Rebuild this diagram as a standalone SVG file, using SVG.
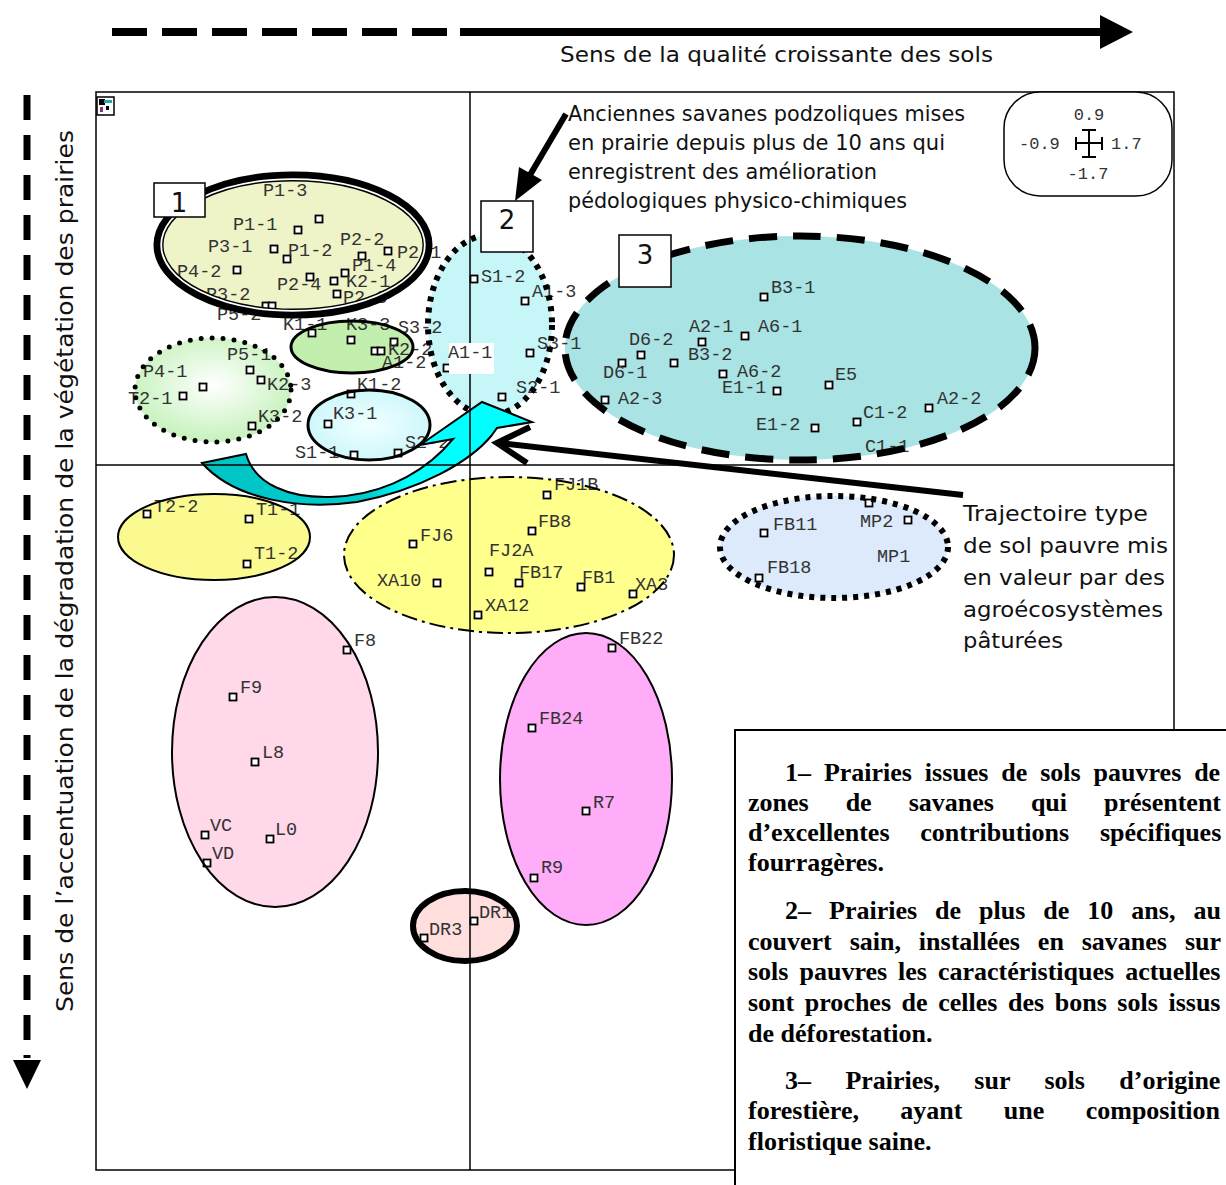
<svg xmlns="http://www.w3.org/2000/svg" width="1226" height="1185" viewBox="0 0 1226 1185">
<defs>
<style>
.lb{font-family:"Liberation Mono","DejaVu Sans Mono",monospace;font-size:18.5px;fill:#333}
.pt{fill:#fff;stroke:#000;stroke-width:1.8}
.sans{font-family:"DejaVu Sans","Liberation Sans",sans-serif;fill:#111}
.bt{font-family:"Liberation Serif","Times New Roman",serif;font-weight:bold;font-size:26px;fill:#000}
.num{font-family:"Liberation Mono",monospace;font-size:17px;fill:#333}
.bx{fill:#fff;stroke:#000;stroke-width:1.5}
.bxt{font-family:"DejaVu Sans","Liberation Sans",sans-serif;font-size:26px;fill:#111;text-anchor:middle}
</style>
<radialGradient id="gGreen" cx="0.5" cy="0.45" r="0.55">
<stop offset="0" stop-color="#ffffff"/><stop offset="1" stop-color="#c6f2bc"/>
</radialGradient>
<radialGradient id="gCyan" cx="0.5" cy="0.5" r="0.6">
<stop offset="0" stop-color="#f0ffff"/><stop offset="1" stop-color="#c8f6fa"/>
</radialGradient>
<linearGradient id="gArrow" x1="200" y1="0" x2="535" y2="0" gradientUnits="userSpaceOnUse">
<stop offset="0" stop-color="#00c4c4"/><stop offset="0.5" stop-color="#00cccc"/><stop offset="0.62" stop-color="#00ffff"/><stop offset="1" stop-color="#00ffff"/>
</linearGradient>
</defs>
<rect width="1226" height="1185" fill="#fff"/>

<!-- axis direction arrows -->
<g id="topArrow">
<line x1="112" y1="32" x2="447" y2="32" stroke="#000" stroke-width="8" stroke-dasharray="35 15"/>
<line x1="460" y1="32" x2="1105" y2="32" stroke="#000" stroke-width="8"/>
<polygon points="1100,15 1133,32 1100,49" fill="#000"/>
<text class="sans" x="560" y="62" font-size="22" textLength="433" lengthAdjust="spacingAndGlyphs">Sens de la qualité croissante des sols</text>
</g>
<g id="leftArrow">
<line x1="27" y1="95" x2="27" y2="1058" stroke="#000" stroke-width="7" stroke-dasharray="25 15"/>
<polygon points="13,1060 41,1060 27,1089" fill="#000"/>
<text class="sans" transform="translate(73,1012) rotate(-90)" font-size="23" textLength="882" lengthAdjust="spacingAndGlyphs">Sens de l’accentuation de la dégradation de la végétation des prairies</text>
</g>

<!-- frame -->
<rect x="96" y="92" width="1078" height="1078" fill="none" stroke="#000" stroke-width="1.5"/>
<g id="icon">
<rect x="97" y="97" width="17" height="18" fill="#fff" stroke="#000" stroke-width="1.5"/>
<rect x="99" y="99" width="6" height="6" fill="#000"/>
<rect x="104" y="100" width="8" height="3" fill="#2aa"/>
<rect x="100" y="107" width="3" height="5" fill="#838"/>
<rect x="106" y="106" width="3" height="4" fill="#000"/>
</g>

<!-- ellipse fills -->
<g id="fills">
<ellipse cx="293" cy="245" rx="131" ry="65" fill="#eef3c8"/>
<ellipse cx="352" cy="347" rx="61" ry="26" fill="#c2efae"/>
<ellipse cx="213" cy="390" rx="78" ry="52" fill="url(#gGreen)"/>
<ellipse cx="369" cy="425" rx="61" ry="35" fill="url(#gCyan)"/>
<ellipse cx="490" cy="325" rx="62" ry="90" fill="#c6f6f8"/>
<ellipse cx="800" cy="348" rx="235" ry="112" fill="#a9e3e3"/>
<ellipse cx="214" cy="537" rx="96" ry="43" fill="#fafa90"/>
<ellipse cx="509" cy="555" rx="165" ry="78" fill="#ffff8c"/>
<ellipse cx="275" cy="752" rx="103" ry="155" fill="#ffd8ea"/>
<ellipse cx="586" cy="779" rx="86" ry="146" fill="#ffadf8"/>
<ellipse cx="465" cy="926" rx="52" ry="35" fill="#ffdede"/>
<ellipse cx="834" cy="547" rx="114" ry="51" fill="#dceafc"/>
</g>

<!-- points -->
<g id="points">
<rect class="pt" x="315.5" y="215.5" width="7" height="7"/>
<rect class="pt" x="294.5" y="226.5" width="7" height="7"/>
<rect class="pt" x="270.5" y="245.5" width="7" height="7"/>
<rect class="pt" x="283.5" y="255.5" width="7" height="7"/>
<rect class="pt" x="358.5" y="252.5" width="7" height="7"/>
<rect class="pt" x="384.5" y="247.5" width="7" height="7"/>
<rect class="pt" x="233.5" y="266.5" width="7" height="7"/>
<rect class="pt" x="341.5" y="269.5" width="7" height="7"/>
<rect class="pt" x="306.5" y="273.5" width="7" height="7"/>
<rect class="pt" x="330.5" y="277.5" width="7" height="7"/>
<rect class="pt" x="333.5" y="290.5" width="7" height="7"/>
<rect class="pt" x="262.5" y="302.5" width="7" height="7"/>
<rect class="pt" x="268.5" y="302.5" width="7" height="7"/>
<rect class="pt" x="308.5" y="329.5" width="7" height="7"/>
<rect class="pt" x="347.5" y="336.5" width="7" height="7"/>
<rect class="pt" x="390.5" y="338.5" width="7" height="7"/>
<rect class="pt" x="371.5" y="347.5" width="7" height="7"/>
<rect class="pt" x="377.5" y="347.5" width="7" height="7"/>
<rect class="pt" x="443.5" y="364.5" width="7" height="7"/>
<rect class="pt" x="246.5" y="366.5" width="7" height="7"/>
<rect class="pt" x="199.5" y="383.5" width="7" height="7"/>
<rect class="pt" x="257.5" y="376.5" width="7" height="7"/>
<rect class="pt" x="179.5" y="392.5" width="7" height="7"/>
<rect class="pt" x="347.5" y="390.5" width="7" height="7"/>
<rect class="pt" x="324.5" y="420.5" width="7" height="7"/>
<rect class="pt" x="248.5" y="422.5" width="7" height="7"/>
<rect class="pt" x="350.5" y="451.5" width="7" height="7"/>
<rect class="pt" x="394.5" y="449.5" width="7" height="7"/>
<rect class="pt" x="470.5" y="275.5" width="7" height="7"/>
<rect class="pt" x="521.5" y="297.5" width="7" height="7"/>
<rect class="pt" x="526.5" y="349.5" width="7" height="7"/>
<rect class="pt" x="498.5" y="393.5" width="7" height="7"/>
<rect class="pt" x="760.5" y="293.5" width="7" height="7"/>
<rect class="pt" x="698.5" y="338.5" width="7" height="7"/>
<rect class="pt" x="741.5" y="332.5" width="7" height="7"/>
<rect class="pt" x="637.5" y="351.5" width="7" height="7"/>
<rect class="pt" x="618.5" y="359.5" width="7" height="7"/>
<rect class="pt" x="670.5" y="359.5" width="7" height="7"/>
<rect class="pt" x="719.5" y="370.5" width="7" height="7"/>
<rect class="pt" x="773.5" y="387.5" width="7" height="7"/>
<rect class="pt" x="825.5" y="381.5" width="7" height="7"/>
<rect class="pt" x="601.5" y="396.5" width="7" height="7"/>
<rect class="pt" x="925.5" y="404.5" width="7" height="7"/>
<rect class="pt" x="853.5" y="418.5" width="7" height="7"/>
<rect class="pt" x="811.5" y="424.5" width="7" height="7"/>
<rect class="pt" x="543.5" y="491.5" width="7" height="7"/>
<rect class="pt" x="143.5" y="510.5" width="7" height="7"/>
<rect class="pt" x="245.5" y="515.5" width="7" height="7"/>
<rect class="pt" x="528.5" y="527.5" width="7" height="7"/>
<rect class="pt" x="409.5" y="540.5" width="7" height="7"/>
<rect class="pt" x="243.5" y="560.5" width="7" height="7"/>
<rect class="pt" x="485.5" y="568.5" width="7" height="7"/>
<rect class="pt" x="515.5" y="579.5" width="7" height="7"/>
<rect class="pt" x="433.5" y="579.5" width="7" height="7"/>
<rect class="pt" x="577.5" y="583.5" width="7" height="7"/>
<rect class="pt" x="629.5" y="590.5" width="7" height="7"/>
<rect class="pt" x="474.5" y="611.5" width="7" height="7"/>
<rect class="pt" x="343.5" y="646.5" width="7" height="7"/>
<rect class="pt" x="608.5" y="644.5" width="7" height="7"/>
<rect class="pt" x="229.5" y="693.5" width="7" height="7"/>
<rect class="pt" x="528.5" y="724.5" width="7" height="7"/>
<rect class="pt" x="251.5" y="758.5" width="7" height="7"/>
<rect class="pt" x="582.5" y="807.5" width="7" height="7"/>
<rect class="pt" x="201.5" y="831.5" width="7" height="7"/>
<rect class="pt" x="266.5" y="835.5" width="7" height="7"/>
<rect class="pt" x="203.5" y="859.5" width="7" height="7"/>
<rect class="pt" x="530.5" y="874.5" width="7" height="7"/>
<rect class="pt" x="470.5" y="917.5" width="7" height="7"/>
<rect class="pt" x="420.5" y="934.5" width="7" height="7"/>
<rect class="pt" x="760.5" y="529.5" width="7" height="7"/>
<rect class="pt" x="865.5" y="499.5" width="7" height="7"/>
<rect class="pt" x="904.5" y="516.5" width="7" height="7"/>
<rect class="pt" x="755.5" y="574.5" width="7" height="7"/>
</g>

<!-- labels -->
<g id="labels" class="lb">
<text x="263" y="196">P1-3</text>
<text x="233" y="230">P1-1</text>
<text x="208" y="252">P3-1</text>
<text x="288" y="256">P1-2</text>
<text x="340" y="245">P2-2</text>
<text x="397" y="258">P2-1</text>
<text x="177" y="277">P4-2</text>
<text x="352" y="271">P1-4</text>
<text x="277" y="290">P2-4</text>
<text x="346" y="287">K2-1</text>
<text x="343" y="303">P2-3</text>
<text x="206" y="300">P3-2</text>
<text x="217" y="320">P5-2</text>
<text x="283" y="330">K1-1</text>
<text x="346" y="330">K3-3</text>
<text x="398" y="333">S3-2</text>
<text x="388" y="355">K2-2</text>
<text x="382" y="368">A1-2</text>
<text x="227" y="360">P5-1</text>
<text x="143" y="377">P4-1</text>
<text x="267" y="390">K2-3</text>
<text x="128" y="404">T2-1</text>
<text x="357" y="390">K1-2</text>
<text x="333" y="419">K3-1</text>
<text x="258" y="422">K3-2</text>
<text x="295" y="458">S1-1</text>
<text x="405" y="448">S2-2</text>
<text x="481" y="282">S1-2</text>
<text x="532" y="297">A1-3</text>
<text x="537" y="349">S3-1</text>
<text x="516" y="393">S2-1</text>
<text x="771" y="293">B3-1</text>
<text x="689" y="332">A2-1</text>
<text x="758" y="332">A6-1</text>
<text x="629" y="345">D6-2</text>
<text x="688" y="360">B3-2</text>
<text x="603" y="378">D6-1</text>
<text x="737" y="377">A6-2</text>
<text x="722" y="393">E1-1</text>
<text x="835" y="380">E5</text>
<text x="618" y="404">A2-3</text>
<text x="937" y="404">A2-2</text>
<text x="863" y="418">C1-2</text>
<text x="756" y="430">E1-2</text>
<text x="865" y="452">C1-1</text>
<text x="554" y="490">FJ1B</text>
<text x="154" y="512">T2-2</text>
<text x="256" y="515">T1-1</text>
<text x="538" y="527">FB8</text>
<text x="420" y="541">FJ6</text>
<text x="489" y="556">FJ2A</text>
<text x="254" y="559">T1-2</text>
<text x="519" y="578">FB17</text>
<text x="377" y="586">XA10</text>
<text x="582" y="583">FB1</text>
<text x="635" y="590">XA3</text>
<text x="485" y="611">XA12</text>
<text x="354" y="646">F8</text>
<text x="619" y="644">FB22</text>
<text x="240" y="693">F9</text>
<text x="539" y="724">FB24</text>
<text x="262" y="758">L8</text>
<text x="593" y="808">R7</text>
<text x="210" y="831">VC</text>
<text x="275" y="835">L0</text>
<text x="212" y="859">VD</text>
<text x="541" y="873">R9</text>
<text x="479" y="918">DR1</text>
<text x="429" y="935">DR3</text>
<text x="773" y="530">FB11</text>
<text x="860" y="527">MP2</text>
<text x="877" y="562">MP1</text>
<text x="767" y="573">FB18</text>
</g>

<!-- ellipse outlines (clusters) -->
<g id="cluster1">
<ellipse cx="293" cy="245" rx="134.5" ry="68.5" fill="none" stroke="#000" stroke-width="10"/>
<ellipse cx="293" cy="245" rx="131.8" ry="65.8" fill="none" stroke="#fff" stroke-width="1.8"/>
</g>
<g id="clusterK33"><ellipse cx="352" cy="347" rx="61" ry="26" fill="none" stroke="#000" stroke-width="3"/></g>
<g id="clusterP41"><ellipse cx="213" cy="390" rx="78" ry="52" fill="none" stroke="#000" stroke-width="5" stroke-linecap="round" stroke-dasharray="0 11"/></g>
<g id="clusterK31"><ellipse cx="369" cy="425" rx="61" ry="35" fill="none" stroke="#000" stroke-width="3"/></g>
<g id="cluster2"><ellipse cx="490" cy="325" rx="62" ry="90" fill="none" stroke="#000" stroke-width="6" stroke-dasharray="5 6"/></g>
<g id="cluster3"><ellipse cx="800" cy="348" rx="235" ry="112" fill="none" stroke="#000" stroke-width="7" stroke-dasharray="28 16"/></g>
<g id="clusterT"><ellipse cx="214" cy="537" rx="96" ry="43" fill="none" stroke="#000" stroke-width="2"/></g>
<g id="clusterFJ"><ellipse cx="509" cy="555" rx="165" ry="78" fill="none" stroke="#000" stroke-width="2" stroke-dasharray="16 5 3 5"/></g>
<g id="clusterF"><ellipse cx="275" cy="752" rx="103" ry="155" fill="none" stroke="#000" stroke-width="2"/></g>
<g id="clusterFB"><ellipse cx="586" cy="779" rx="86" ry="146" fill="none" stroke="#000" stroke-width="2"/></g>
<g id="clusterDR"><ellipse cx="465" cy="926" rx="52" ry="35" fill="none" stroke="#000" stroke-width="6"/></g>
<g id="clusterMP"><ellipse cx="834" cy="547" rx="114" ry="51" fill="none" stroke="#000" stroke-width="6" stroke-dasharray="5 6"/></g>

<!-- trajectory arrow -->
<g id="trajectory">
<path d="M202,463 L246,454 C255,485 290,498 330,497 C375,496 415,478 443,450 L453,439 L420,445 L482,402 L532,422 L497,428 L492,435 C470,462 420,490 357,502 C300,510 235,500 202,463 Z" fill="url(#gArrow)" stroke="#000" stroke-width="2" stroke-linejoin="miter"/>
</g>

<!-- axes -->
<g id="axes" stroke="#000" stroke-width="1.5">
<line x1="470" y1="92" x2="470" y2="1170"/>
<line x1="96" y1="465" x2="1174" y2="465"/>
</g>

<g id="labelA11">
<rect x="449" y="343" width="45" height="31" fill="#fff"/>
<text class="lb" x="448" y="358">A1-1</text>
</g>

<!-- number boxes -->
<g id="box1"><rect class="bx" x="154" y="183" width="51" height="34"/><text class="bxt" x="179" y="212">1</text></g>
<g id="box2"><rect class="bx" x="481" y="201" width="52" height="51"/><text class="bxt" x="507" y="229">2</text></g>
<g id="box3"><rect class="bx" x="619" y="235" width="52" height="52"/><text class="bxt" x="645" y="264">3</text></g>

<!-- scale legend -->
<g id="scale">
<rect x="1004" y="92" width="168" height="104" rx="36" ry="36" fill="#fff" stroke="#000" stroke-width="1.5"/>
<text class="num" x="1089" y="120" text-anchor="middle">0.9</text>
<text class="num" x="1019" y="149">-0.9</text>
<text class="num" x="1111" y="149">1.7</text>
<text class="num" x="1088" y="179" text-anchor="middle">-1.7</text>
<g stroke="#000" stroke-width="2">
<line x1="1089" y1="130" x2="1089" y2="157"/>
<line x1="1076" y1="143" x2="1102" y2="143"/>
<line x1="1082" y1="130" x2="1096" y2="130"/>
<line x1="1082" y1="157" x2="1096" y2="157"/>
<line x1="1076" y1="137" x2="1076" y2="150"/>
<line x1="1102" y1="137" x2="1102" y2="150"/>
</g>
</g>

<!-- annotations -->
<g id="note2">
<text class="sans" font-size="21" x="568" y="121" textLength="397" lengthAdjust="spacingAndGlyphs">Anciennes savanes podzoliques mises</text>
<text class="sans" font-size="21" x="568" y="150" textLength="377" lengthAdjust="spacingAndGlyphs">en prairie depuis plus de 10 ans qui</text>
<text class="sans" font-size="21" x="568" y="179" textLength="309" lengthAdjust="spacingAndGlyphs">enregistrent des amélioration</text>
<text class="sans" font-size="21" x="568" y="208" textLength="339" lengthAdjust="spacingAndGlyphs">pédologiques physico-chimiques</text>
</g>
<g id="connectors">
<line x1="566" y1="114" x2="527" y2="180" stroke="#000" stroke-width="6"/>
<polygon points="515,201 519,167 542,180" fill="#000"/>
<line x1="963" y1="495" x2="500" y2="443" stroke="#000" stroke-width="6"/>
<polyline points="530,427 497,443 527,463" fill="none" stroke="#000" stroke-width="6"/>
</g>
<g id="noteTraj" class="sans" font-size="22">
<text x="963" y="521" textLength="185" lengthAdjust="spacingAndGlyphs">Trajectoire type</text>
<text x="963" y="553" textLength="205" lengthAdjust="spacingAndGlyphs">de sol pauvre mis</text>
<text x="963" y="585" textLength="202" lengthAdjust="spacingAndGlyphs">en valeur par des</text>
<text x="963" y="617" textLength="200" lengthAdjust="spacingAndGlyphs">agroécosystèmes</text>
<text x="963" y="648" textLength="100" lengthAdjust="spacingAndGlyphs">pâturées</text>
</g>

<!-- legend text box -->
<g id="legendBox">
<rect x="735" y="730" width="500" height="470" fill="#fff" stroke="#000" stroke-width="2"/>
<text class="bt" x="785" y="781" word-spacing="6.4">1– Prairies issues de sols pauvres de</text>
<text class="bt" x="748" y="811" word-spacing="30.5">zones de savanes qui présentent</text>
<text class="bt" x="748" y="841" word-spacing="24.3">d’excellentes contributions spécifiques</text>
<text class="bt" x="748" y="871">fourragères.</text>
<text class="bt" x="785" y="919" word-spacing="11.5">2– Prairies de plus de 10 ans, au</text>
<text class="bt" x="748" y="950" word-spacing="11.4">couvert sain, installées en savanes sur</text>
<text class="bt" x="748" y="980" word-spacing="4.5">sols pauvres les caractéristiques actuelles</text>
<text class="bt" x="748" y="1011" word-spacing="4.1">sont proches de celles des bons sols issus</text>
<text class="bt" x="748" y="1042">de déforestation.</text>
<text class="bt" x="785" y="1089" word-spacing="27.9">3– Prairies, sur sols d’origine</text>
<text class="bt" x="748" y="1119" word-spacing="34.9">forestière, ayant une composition</text>
<text class="bt" x="748" y="1150">floristique saine.</text>
</g>
</svg>
